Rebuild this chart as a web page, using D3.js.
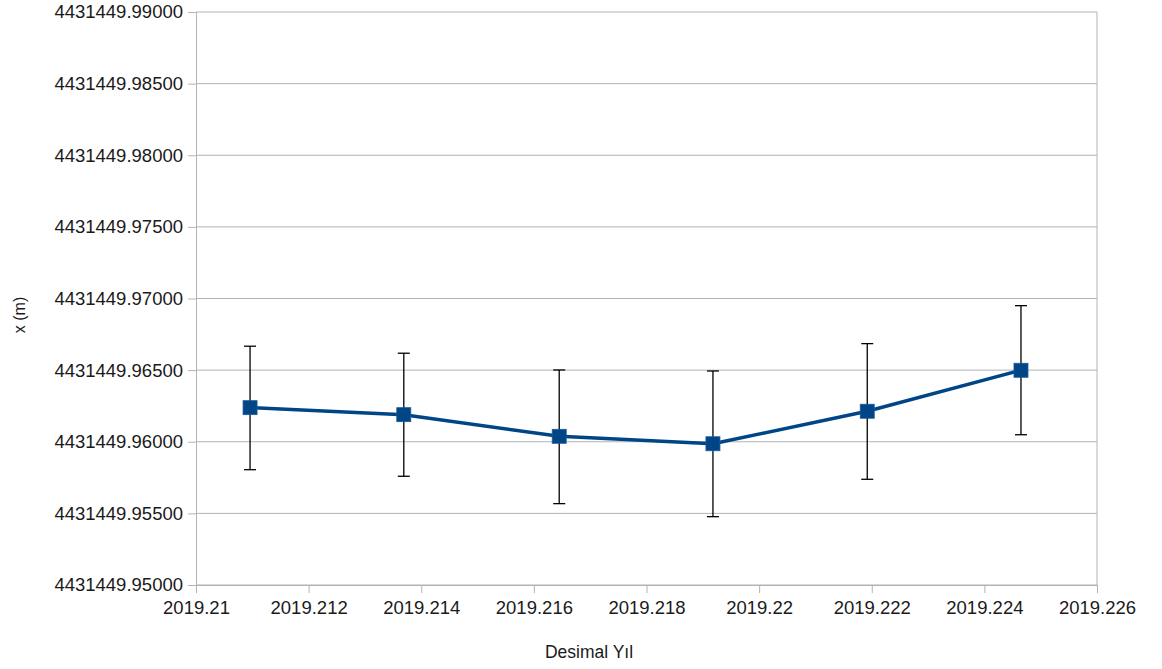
<!DOCTYPE html>
<html><head><meta charset="utf-8">
<script src="https://cdn.jsdelivr.net/npm/d3@7"></script>
<style>body{margin:0;background:#fff}svg text{font-family:"Liberation Sans",Arial,sans-serif;fill:#1a1a1a}</style>
</head><body><svg id="c" width="1162" height="669"></svg>
<script>
const years = [2019.21096, 2019.21369, 2019.21645, 2019.21918, 2019.22192, 2019.22465];
const xValues = [4431449.96238, 4431449.96189, 4431449.96038, 4431449.95986, 4431449.96213, 4431449.96499];
const errPlus = [0.00429, 0.00429, 0.00463, 0.00508, 0.00472, 0.00451];
const errMinus = [0.00433, 0.00430, 0.00470, 0.00509, 0.00475, 0.00450];
const xTicks = [2019.21, 2019.212, 2019.214, 2019.216, 2019.218, 2019.22, 2019.222, 2019.224, 2019.226];
const xTickLabels = ["2019.21","2019.212","2019.214","2019.216","2019.218","2019.22","2019.222","2019.224","2019.226"];
const yTicks = [4431449.95, 4431449.955, 4431449.96, 4431449.965, 4431449.97, 4431449.975, 4431449.98, 4431449.985, 4431449.99];
const yTickLabels = ["4431449.95000","4431449.95500","4431449.96000","4431449.96500","4431449.97000","4431449.97500","4431449.98000","4431449.98500","4431449.99000"];

const svg = d3.select("#c");
const L=196, R=1097, T=12, B=585;
const x = d3.scaleLinear().domain([2019.21, 2019.226]).range([L, R]);
const y = d3.scaleLinear().domain([4431449.95, 4431449.99]).range([B, T]);

// grid
svg.append("g").selectAll("line").data(yTicks).join("line")
  .attr("x1", L).attr("x2", R).attr("y1", d=>y(d)).attr("y2", d=>y(d))
  .attr("stroke", "#b3b3b3").attr("stroke-width", 1);
svg.append("line").attr("x1",R).attr("x2",R).attr("y1",T).attr("y2",B).attr("stroke","#b3b3b3");

const yAxis = d3.axisLeft(y).tickValues(yTicks).tickFormat((d,i)=>yTickLabels[i]).tickSize(8).tickPadding(5);
const gy = svg.append("g").attr("transform",`translate(${L},0)`).call(yAxis);
const xAxis = d3.axisBottom(x).tickValues(xTicks).tickFormat((d,i)=>xTickLabels[i]).tickSize(8).tickPadding(8);
const gx = svg.append("g").attr("transform",`translate(0,${B})`).call(xAxis);
[gx, gy].forEach(g=>{
  g.select(".domain").attr("stroke","#b3b3b3");
  g.selectAll(".tick line").attr("stroke","#b3b3b3");
  g.selectAll(".tick text").style("font-size","18.5px").attr("fill","#1a1a1a");
});
gx.selectAll(".tick text").attr("dy","0.71em");

// axis titles
svg.append("text").attr("x", 589).attr("y", 658).attr("text-anchor","middle").style("font-size","17.5px").text("Desimal Yıl");
svg.append("text").attr("transform","translate(25,315) rotate(-90)").attr("text-anchor","middle").style("font-size","16px").text("x (m)");

const data = years.map((d,i)=>({t:d, v:xValues[i], hi:xValues[i]+errPlus[i], lo:xValues[i]-errMinus[i]}));

// error bars
const eb = svg.append("g").attr("stroke","#000").attr("stroke-width",1.3);
data.forEach(d=>{
  eb.append("line").attr("x1",x(d.t)).attr("x2",x(d.t)).attr("y1",y(d.hi)).attr("y2",y(d.lo));
  eb.append("line").attr("x1",x(d.t)-6).attr("x2",x(d.t)+6).attr("y1",y(d.hi)).attr("y2",y(d.hi));
  eb.append("line").attr("x1",x(d.t)-6).attr("x2",x(d.t)+6).attr("y1",y(d.lo)).attr("y2",y(d.lo));
});

// line
svg.append("path").datum(data)
  .attr("d", d3.line().x(d=>x(d.t)).y(d=>y(d.v)))
  .attr("fill","none").attr("stroke","#004586").attr("stroke-width",3.5).attr("stroke-linejoin","round");

// markers
svg.append("g").selectAll("rect").data(data).join("rect")
  .attr("x", d=>x(d.t)-7).attr("y", d=>y(d.v)-7).attr("width",14).attr("height",14)
  .attr("fill","#004586").attr("stroke","#1a5a9a").attr("stroke-width",0.8);
</script></body></html>
